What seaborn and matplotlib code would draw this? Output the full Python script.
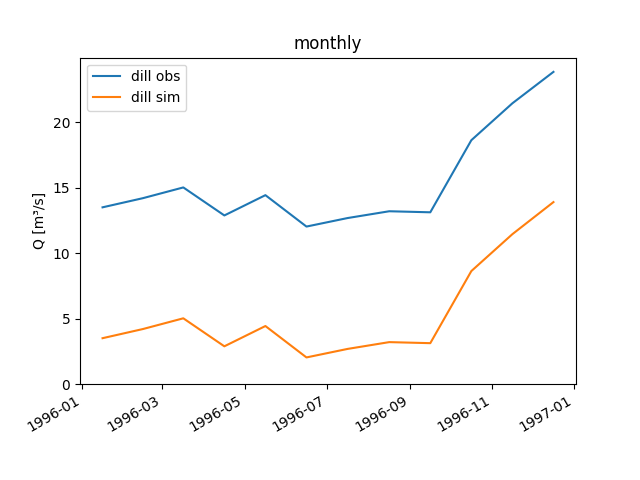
import matplotlib
matplotlib.use("Agg")
import matplotlib.pyplot as plt
import seaborn as sns
import pandas as pd

# monthly values, plotted at the middle of each month
dates = pd.to_datetime([
    "1996-01-16 12:00", "1996-02-15 12:00", "1996-03-16 12:00", "1996-04-16 00:00",
    "1996-05-16 12:00", "1996-06-16 00:00", "1996-07-16 12:00", "1996-08-16 12:00",
    "1996-09-16 00:00", "1996-10-16 12:00", "1996-11-16 00:00", "1996-12-16 12:00",
])
dill_obs = [13.5, 14.2, 15.02, 12.88, 14.43, 12.03, 12.68, 13.2, 13.12, 18.63, 21.45, 23.85]
dill_sim = [3.5, 4.2, 5.02, 2.88, 4.43, 2.03, 2.68, 3.2, 3.12, 8.63, 11.45, 13.9]

df = pd.DataFrame({"date": dates, "dill obs": dill_obs, "dill sim": dill_sim})

fig, ax = plt.subplots(figsize=(6.4, 4.8), dpi=100)
sns.lineplot(data=df, x="date", y="dill obs", ax=ax, label="dill obs")
sns.lineplot(data=df, x="date", y="dill sim", ax=ax, label="dill sim")

ax.set_ylim(bottom=0)
ax.set_xlabel("")
ax.set_ylabel("Q [m³/s]")
ax.set_title("monthly")
ax.legend(loc="upper left")
fig.autofmt_xdate()

fig.savefig("out.png")
